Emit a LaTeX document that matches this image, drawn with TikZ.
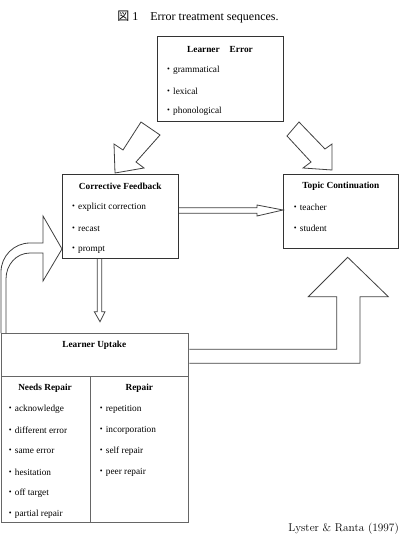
\documentclass[tikz,border=0pt]{standalone}
\usepackage{fontspec}
\setmainfont{Liberation Serif}
\newfontfamily\cjk{Noto Sans CJK JP}
\newfontfamily\lmfont{lmroman12-regular.otf}
\usetikzlibrary{calc}
\newcommand{\bul}{{\cjk ・}}
\begin{document}
\begin{tikzpicture}[x=1pt,y=-1pt,line join=miter,
  box/.style={draw=black!80,line width=0.9pt,inner sep=0,anchor=north west,fill=white},
  txt/.style={font=\fontsize{9.3}{11}\selectfont,inner sep=0,anchor=west},
  hd/.style={font=\fontsize{9.3}{11}\selectfont\bfseries,inner sep=0},
  blk/.style={draw=black!75,line width=0.8pt,fill=white}]
\useasboundingbox (0,0) rectangle (402,537);

% title
\node[inner sep=0,font=\fontsize{12}{14}\selectfont] (title) at (198,17) {{\cjk 図} 1{\cjk 　}Error treatment sequences.};

% block arrows (drawn first)
\path[blk] (141,122) -- (123,150) -- (114,144) -- (115,173) -- (144,168) -- (136,162) -- (160,135) -- cycle;
\path[blk] (299,122) -- (287,136) -- (311,162) -- (303,168) -- (332,170) -- (332,144) -- (325,149) -- cycle;

% boxes
\node[box,minimum width=126pt,minimum height=85pt] (le) at (157,36) {};
\node[box,minimum width=116pt,minimum height=84pt] (cf) at (62,174) {};
\node[box,minimum width=115pt,minimum height=74pt] (tc) at (283,174) {};
\node[box,draw=black!60,line width=1.3pt,minimum width=187pt,minimum height=189pt] (lu) at (1,333) {};
\coordinate (luh) at (1,376);
\draw[draw=black!60,line width=0.9pt] (luh) -- (luh -| lu.east);
\coordinate (luv) at (90.7,376);
\draw[draw=black!60,line width=0.9pt] (luv) -- (luv |- lu.south);

% connectors
\draw[blk,fill=none] (cf.east |- 0,207.7) -- (257,207.7) -- (257,205) -- (tc.west |- 0,210) -- (257,216) -- (257,213.3) -- (cf.east |- 0,213.3);
\draw[blk,fill=none] (cf.south -| 97.3,0) -- (97.3,311.7) -- (94.3,311.7) -- (100,321.7) -- (105,311.7) -- (101.7,311.7) -- (cf.south -| 101.7,0);
\draw[blk,fill=none] (lu.north -| 1,0) -- (1,272) .. controls (1,256) and (14,243) .. (30,243) -- (43,243) -- (43,216) -- (cf.west |- 0,249) -- (43,281) -- (43,253) -- (30,253) .. controls (16,253) and (6,265) .. (6,279) -- (lu.north -| 6,0);
\draw[blk,fill=none] (lu.east |- 0,349.3) -- (336.7,349.3) -- (336.7,296.7) -- (308.3,296.7) -- (347.7,257.3) -- (388.3,296.7) -- (360,296.7) -- (360,363.3) -- (lu.east |- 0,363.3);

% Learner Error
\node[hd] (leh) at (220,49.3) {Learner\hspace{10pt}Error};
\node[txt] (le1) at (163.7,70.7) {\bul grammatical};
\node[txt] (le2) at (163.7,91) {\bul lexical};
\node[txt] (le3) at (163.7,111.7) {\bul phonological};

% Corrective Feedback
\node[hd] (cfh) at (120.3,186) {Corrective Feedback};
\node[txt] (cf1) at (68.7,207.3) {\bul explicit correction};
\node[txt] (cf2) at (68.7,228.7) {\bul recast};
\node[txt] (cf3) at (68.7,249.7) {\bul prompt};

% Topic Continuation
\node[hd] (tch) at (340.8,186) {Topic Continuation};
\node[txt] (tc1) at (290.4,207.3) {\bul teacher};
\node[txt] (tc2) at (290.4,228.7) {\bul student};

% Learner Uptake
\node[hd] (luh1) at (94.3,345) {Learner Uptake};
\node[hd] (nrh) at (45,388.3) {Needs Repair};
\node[hd] (rh) at (139.3,388.3) {Repair};
\node[txt] (n1) at (5.4,409.3) {\bul acknowledge};
\node[txt] (n2) at (5.4,430.3) {\bul different error};
\node[txt] (n3) at (5.4,451) {\bul same error};
\node[txt] (n4) at (5.4,472.3) {\bul hesitation};
\node[txt] (n5) at (5.4,493) {\bul off target};
\node[txt] (n6) at (5.4,514.3) {\bul partial repair};
\node[txt] (r1) at (96.4,409.3) {\bul repetition};
\node[txt] (r2) at (96.4,430.3) {\bul incorporation};
\node[txt] (r3) at (96.4,451) {\bul self repair};
\node[txt] (r4) at (96.4,472.3) {\bul peer repair};

% source
\node[inner sep=0,anchor=east,font=\lmfont\fontsize{11.3}{13}\selectfont] (src) at (399,529) {Lyster \& Ranta (1997)};
\end{tikzpicture}
\end{document}
